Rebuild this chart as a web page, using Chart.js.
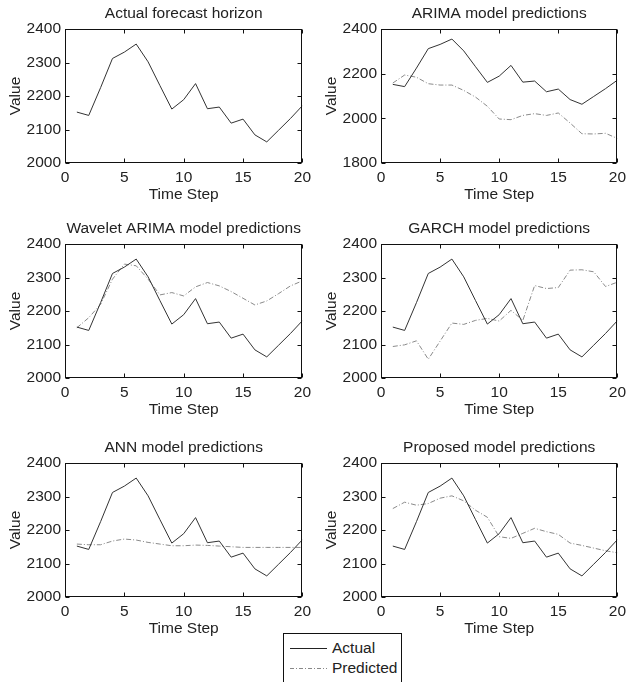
<!DOCTYPE html>
<html>
<head>
<meta charset="utf-8">
<script src="https://cdn.jsdelivr.net/npm/chart.js@4.4.1/dist/chart.umd.min.js"></script>
<style>
  html, body { margin: 0; padding: 0; background: #fff; }
  body { width: 630px; height: 682px; position: relative; overflow: hidden; font-family: "Liberation Sans", Arial, sans-serif; }
  .panel { position: absolute; }
  .legend { position: absolute; left: 283px; top: 633px; width: 117px; height: 60px; border: 1px solid #111; background: #fff; color: #222; font-size: 15.5px; }
  .legend .row { position: absolute; left: 6px; height: 18px; line-height: 18px; }
  .legend svg { position: absolute; left: 0; top: 0; }
  .legend span { position: absolute; left: 42px; top: 0; white-space: nowrap; }
</style>
</head>
<body>
<div class="legend">
  <div class="row" style="top: 5px;">
    <svg width="38" height="18"><line x1="0" y1="9.5" x2="37" y2="9.5" stroke="#222" stroke-width="1"/></svg>
    <span>Actual</span>
  </div>
  <div class="row" style="top: 25px;">
    <svg width="38" height="18"><line x1="0" y1="9.5" x2="37" y2="9.5" stroke="#888" stroke-width="1" stroke-dasharray="4,2,1,2"/></svg>
    <span>Predicted</span>
  </div>
</div>
<script>
// data
const steps = [1, 2, 3, 4, 5, 6, 7, 8, 9, 10, 11, 12, 13, 14, 15, 16, 17, 18, 19, 20];
const actual = [2152, 2142, 2225, 2312, 2331, 2355, 2302, 2231, 2161, 2189, 2237, 2162, 2167, 2119, 2131, 2084, 2063, 2098, 2133, 2171];
const arimaPred = [2158, 2194, 2184, 2155, 2149, 2149, 2125, 2095, 2054, 1997, 1994, 2013, 2021, 2013, 2024, 1979, 1931, 1930, 1933, 1910];
const waveletPred = [2150, 2180, 2220, 2295, 2340, 2335, 2295, 2248, 2255, 2245, 2272, 2285, 2275, 2258, 2238, 2218, 2230, 2252, 2275, 2290];
const garchPred = [2094, 2099, 2111, 2056, 2110, 2164, 2160, 2172, 2178, 2170, 2202, 2172, 2276, 2267, 2270, 2322, 2323, 2317, 2273, 2286];
const annPred = [2158, 2156, 2156, 2167, 2173, 2170, 2163, 2158, 2153, 2153, 2155, 2154, 2152, 2150, 2148, 2148, 2148, 2148, 2148, 2148];
const proposedPred = [2264, 2283, 2274, 2279, 2295, 2302, 2287, 2259, 2238, 2180, 2175, 2190, 2205, 2195, 2187, 2161, 2154, 2146, 2138, 2132];

const titles = ['Actual forecast horizon', 'ARIMA model predictions', 'Wavelet ARIMA model predictions',
  'GARCH model predictions', 'ANN model predictions', 'Proposed model predictions'];
const predictions = [null, arimaPred, waveletPred, garchPred, annPred, proposedPred];
const yMins = [2000, 1800, 2000, 2000, 2000, 2000];
const yMaxs = [2400, 2400, 2400, 2400, 2400, 2400];
const ySteps = [100, 200, 100, 100, 100, 100];
const xMin = 0, xMax = 20, xStep = 5;

// plot area boxes in the page
const colLeft = [65, 381], colRight = [304, 619];
const rowTop = [29, 244, 463], rowBottom = [163, 378, 597];

const fontFamily = '"Liberation Sans", Arial, sans-serif';
const fontSize = 15.5;
const textColor = '#222';

// box around the axes with inward ticks, plus the title centred on the plot area
const boxPlugin = {
  id: 'box',
  afterDraw(chart, args, opts) {
    const ctx = chart.ctx;
    const a = chart.chartArea;
    const xs = chart.scales.x, ys = chart.scales.y;
    const L = Math.round(a.left) + 0.5, R = Math.round(a.right) - 0.5;
    const T = Math.round(a.top) + 0.5, B = Math.round(a.bottom) - 0.5;
    ctx.save();
    ctx.strokeStyle = '#111';
    ctx.lineWidth = 1;
    ctx.strokeRect(L, T, R - L, B - T);
    ctx.beginPath();
    xs.ticks.forEach(t => {
      const px = Math.round(xs.getPixelForValue(t.value)) + 0.5;
      ctx.moveTo(px, B); ctx.lineTo(px, B - 4);
      ctx.moveTo(px, T); ctx.lineTo(px, T + 4);
    });
    ys.ticks.forEach(t => {
      const py = Math.round(ys.getPixelForValue(t.value)) + 0.5;
      ctx.moveTo(L, py); ctx.lineTo(L + 4, py);
      ctx.moveTo(R, py); ctx.lineTo(R - 4, py);
    });
    ctx.stroke();

    ctx.fillStyle = textColor;
    ctx.font = fontSize + 'px ' + fontFamily;
    ctx.textAlign = 'center';
    ctx.textBaseline = 'middle';
    ctx.fillText(opts.text, (a.left + a.right) / 2, a.top - 15);
    ctx.restore();
  }
};

function makePanel(i) {
  const col = i % 2, row = Math.floor(i / 2);
  const left = colLeft[col] - 60, top = rowTop[row] - 30;
  const width = colRight[col] - left + 12;
  const height = rowBottom[row] - top + 41;

  const div = document.createElement('div');
  div.className = 'panel';
  div.style.left = left + 'px';
  div.style.top = top + 'px';
  div.style.width = width + 'px';
  div.style.height = height + 'px';
  const canvas = document.createElement('canvas');
  div.appendChild(canvas);
  document.body.appendChild(div);

  const datasets = [{
    label: 'Actual',
    data: steps.map((s, k) => ({ x: s, y: actual[k] })),
    borderColor: '#333',
    borderWidth: 1,
    pointRadius: 0,
    tension: 0,
    fill: false
  }];
  if (predictions[i]) {
    datasets.push({
      label: 'Predicted',
      data: steps.map((s, k) => ({ x: s, y: predictions[i][k] })),
      borderColor: '#8a8a8a',
      borderWidth: 1,
      borderDash: [5, 2, 1, 2],
      pointRadius: 0,
      tension: 0,
      fill: false
    });
  }

  new Chart(canvas, {
    type: 'line',
    data: { datasets: datasets },
    options: {
      responsive: true,
      maintainAspectRatio: false,
      animation: false,
      layout: { padding: { left: 0, right: 12, top: 30, bottom: 0 } },
      plugins: {
        legend: { display: false },
        tooltip: { enabled: false },
        title: { display: false },
        box: { text: titles[i] }
      },
      scales: {
        x: {
          type: 'linear',
          min: xMin, max: xMax,
          grid: { display: false, drawTicks: false },
          border: { display: false },
          ticks: { stepSize: xStep, padding: 5, color: textColor, maxRotation: 0,
            font: { family: fontFamily, size: fontSize, lineHeight: 1.2 } },
          title: { display: true, text: 'Time Step', color: textColor, padding: 0,
            font: { family: fontFamily, size: fontSize, lineHeight: 1.2 } },
          afterFit(scale) { scale.height = 41; }
        },
        y: {
          min: yMins[i], max: yMaxs[i],
          grid: { display: false, drawTicks: false },
          border: { display: false },
          ticks: { stepSize: ySteps[i], padding: 4, color: textColor,
            format: { useGrouping: false },
            font: { family: fontFamily, size: fontSize, lineHeight: 1.2 } },
          title: { display: true, text: 'Value', color: textColor, padding: 1,
            font: { family: fontFamily, size: fontSize, lineHeight: 1.2 } },
          afterFit(scale) { scale.width = 60; }
        }
      }
    },
    plugins: [boxPlugin]
  });
}

for (let i = 0; i < titles.length; i++) makePanel(i);
</script>
</body>
</html>
